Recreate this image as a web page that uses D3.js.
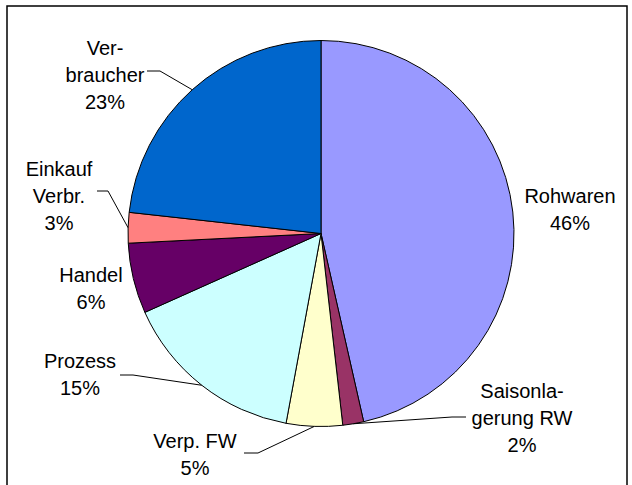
<!DOCTYPE html>
<html>
<head>
<meta charset="utf-8">
<script src="https://cdn.jsdelivr.net/npm/d3@7"></script>
<style>
  body { margin: 0; background: #fff; }
  svg { display: block; }
</style>
</head>
<body>
<div id="chart"></div>
<script>
const categories = ["Rohwaren", "Saisonlagerung RW", "Verp. FW", "Prozess", "Handel", "Einkauf Verbr.", "Verbraucher"];
const values = [46.45, 1.75, 4.7, 15.4, 5.9, 2.55, 23.25];
const labelLines = [["Rohwaren"], ["Saisonla-", "gerung RW"], ["Verp. FW"], ["Prozess"], ["Handel"], ["Einkauf", "Verbr."], ["Ver-", "braucher"]];
const colors = ["#9999FF", "#993366", "#FFFFCC", "#CCFFFF", "#660066", "#FF8080", "#0066CC"];

const W = 632, H = 485;
const cx = 321, cy = 233.5, R = 193;
const lineH = 27;

// label placement (centre x, baseline of first line) and leader line start
const labelPos = {
  "Rohwaren":          { x: 570, y: 203 },
  "Saisonlagerung RW": { x: 522, y: 398, lead: [466, 417, 452] },
  "Verp. FW":          { x: 195, y: 448, lead: [244, 453, 258] },
  "Prozess":           { x: 80,  y: 368, lead: [120, 375, 133] },
  "Handel":            { x: 91,  y: 282 },
  "Einkauf Verbr.":    { x: 59,  y: 176, lead: [97, 191, 108] },
  "Verbraucher":       { x: 105, y: 55,  lead: [147, 71, 160] }
};

const svg = d3.select("#chart").append("svg")
  .attr("width", W)
  .attr("height", H);

svg.append("rect")
  .attr("x", 7).attr("y", 6)
  .attr("width", 620).attr("height", 500)
  .attr("fill", "#fff")
  .attr("stroke", "#000")
  .attr("stroke-width", 1.5);

const pie = d3.pie().sort(null).value(d => d);
const arcs = pie(values);
const arc = d3.arc().innerRadius(0).outerRadius(R);

const g = svg.append("g").attr("transform", `translate(${cx},${cy})`);

g.selectAll("path.slice")
  .data(arcs)
  .enter()
  .append("path")
  .attr("class", "slice")
  .attr("d", arc)
  .attr("fill", (d, i) => colors[i])
  .attr("stroke", "#000")
  .attr("stroke-width", 1)
  .attr("stroke-linejoin", "round");

const total = d3.sum(values);

// leader lines
arcs.forEach((d, i) => {
  const p = labelPos[categories[i]];
  if (!p.lead) return;
  const mid = (d.startAngle + d.endAngle) / 2;
  const ex = cx + R * Math.sin(mid);
  const ey = cy - R * Math.cos(mid);
  svg.append("path")
    .attr("d", `M${p.lead[0]},${p.lead[1]} L${p.lead[2]},${p.lead[1]} L${ex},${ey}`)
    .attr("fill", "none")
    .attr("stroke", "#000")
    .attr("stroke-width", 1);
});

// labels
arcs.forEach((d, i) => {
  const p = labelPos[categories[i]];
  const lines = labelLines[i].concat([Math.round(d.value / total * 100) + "%"]);
  const t = svg.append("text")
    .attr("text-anchor", "middle")
    .attr("font-family", "'Liberation Sans', Arial, sans-serif")
    .attr("font-size", "20px")
    .attr("fill", "#000");
  lines.forEach((s, k) => {
    t.append("tspan")
      .attr("x", p.x)
      .attr("y", p.y + k * lineH)
      .text(s);
  });
});
</script>
</body>
</html>
